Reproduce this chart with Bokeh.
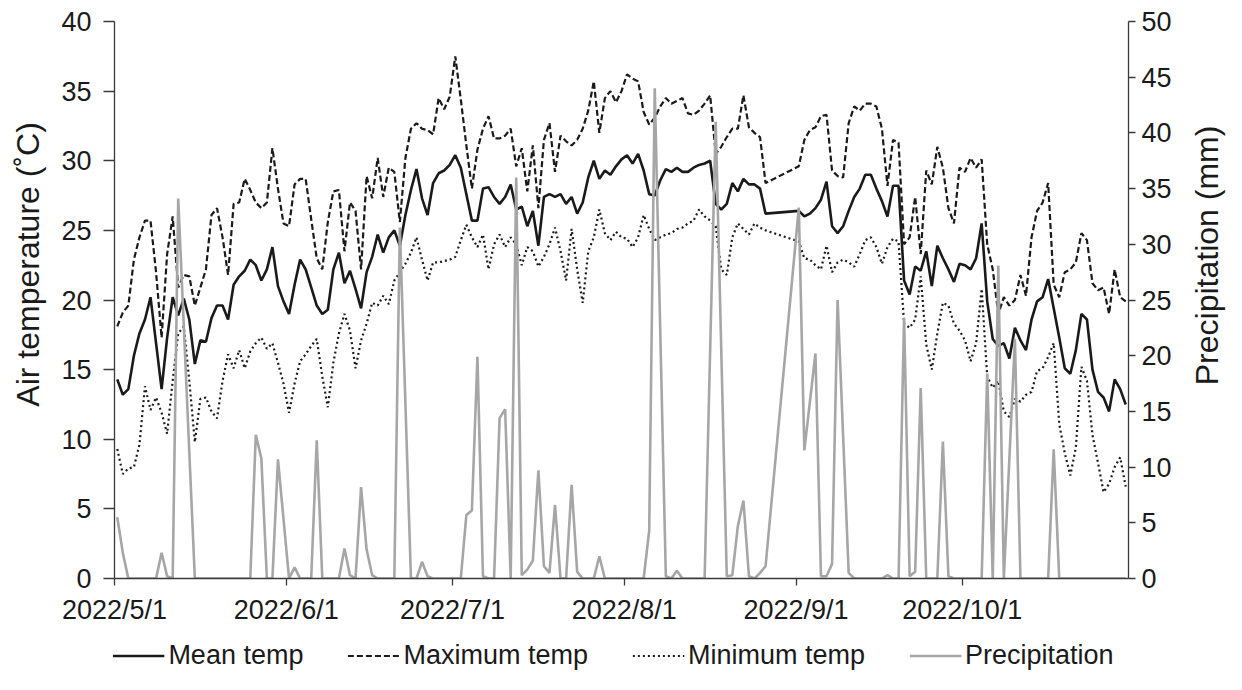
import math
import pandas as pd
from bokeh.plotting import figure
from bokeh.layouts import column, row
from bokeh.models import (Range1d, LinearAxis, FixedTicker, Legend, LegendItem,
                          ColumnDataSource, Label)
from bokeh.embed import file_html
from bokeh.resources import INLINE

FONT = "Liberation Sans"

# ---------------- data ----------------
start_date = "2022-05-01"
n_days = 183  # 2022-05-01 .. 2022-10-30
dates = pd.date_range(start_date, periods=n_days)

# daily values; None = no point for that day (the line joins across it)
mean_temp = [
    14.3, 13.2, 13.6, 16.0, 17.6, 18.6, 20.2, 16.9, 13.6, 17.3,
    20.2, 18.9, 20.1, 18.6, 15.4, 17.1, 17.0, 18.7, 19.6, 19.6,
    18.6, 21.1, 21.7, 22.1, 22.9, 22.5, 21.4, 22.2, 23.8, 21.0,
    19.9, 19.0, 21.1, 22.9, 22.2, 20.9, 19.6, 19.0, 19.3, 22.2,
    23.4, 21.2, 22.1, 20.8, 19.4, 22.0, 23.1, 24.7, 23.4, 24.5,
    25.0, 23.9, 26.1, 27.9, 29.4, 27.3, 26.1, 28.4, 29.1, 29.3,
    29.7, 30.4, 29.5, 27.6, 25.7, 25.7, 28.0, 28.1, 27.4, 26.9,
    27.4, 28.3, 26.5, 26.7, 25.3, 26.4, 23.9, 27.4, 27.6, 27.4,
    27.6, 26.9, 27.4, 26.2, 27.0, 28.8, 30.0, 28.7, 29.3, 29.0,
    29.6, 30.1, 30.4, 29.8, 30.5, 29.3, 27.6, 27.5, 28.6, 29.4,
    29.2, 29.5, 29.2, 29.2, 29.5, 29.7, 29.8, 30.0, 26.9, 26.5,
    26.9, 28.4, 27.8, 28.7, 28.3, 28.3, 28.0, 26.2, None, None,
    None, None, None, 26.4, 26.0, 26.2, 26.6, 27.2, 28.5, 25.3,
    24.8, 25.3, 26.4, 27.4, 28.0, 29.0, 29.0, 28.0, 27.1, 26.0,
    28.2, 28.2, 21.4, 20.4, 22.4, 22.1, 23.5, 21.0, 23.9, 23.0,
    22.2, 21.3, 22.6, 22.5, 22.2, 23.0, 25.5, 19.9, 17.2, 16.7,
    16.9, 15.8, 18.0, 17.1, 16.4, 18.6, 19.9, 20.2, 21.5, 19.4,
    17.3, 15.1, 14.7, 16.4, 19.0, 18.6, 15.0, 13.4, 13.0, 12.0,
    14.3, 13.6, 12.5]

max_temp = [
    18.1, 19.1, 19.6, 22.9, 24.5, 25.7, 25.7, 22.0, 17.3, 23.3,
    26.0, 20.9, 21.8, 21.7, 19.6, 20.9, 22.2, 26.1, 26.6, 24.5,
    21.8, 26.9, 27.0, 28.7, 27.9, 27.0, 26.6, 27.0, 30.9, 28.0,
    25.5, 25.3, 28.3, 28.7, 28.7, 25.8, 23.0, 22.2, 25.6, 27.8,
    27.9, 23.5, 27.0, 26.4, 22.2, 28.9, 27.3, 30.2, 27.4, 29.5,
    29.2, 25.6, 30.2, 32.3, 32.7, 32.3, 32.2, 31.9, 34.5, 33.7,
    34.6, 37.5, 34.4, 31.1, 28.0, 30.8, 32.3, 33.2, 31.6, 31.6,
    31.8, 32.3, 29.6, 30.9, 27.8, 31.1, 26.6, 31.5, 32.7, 29.2,
    31.8, 31.4, 31.1, 31.5, 32.3, 33.6, 35.7, 32.0, 34.5, 35.0,
    34.2, 35.0, 36.2, 35.9, 35.7, 33.5, 32.6, 33.1, 33.9, 34.5,
    34.1, 34.3, 34.5, 33.4, 33.3, 33.6, 34.1, 34.7, 30.5, 31.0,
    31.7, 32.3, 32.3, 34.7, 32.4, 32.0, 31.7, 28.4, None, None,
    None, None, None, 29.6, 31.5, 32.2, 32.4, 33.2, 33.3, 29.3,
    28.9, 28.8, 32.7, 33.9, 33.6, 34.1, 34.1, 33.9, 32.3, 28.2,
    31.5, 31.3, 24.0, 24.5, 27.4, 23.3, 29.3, 28.3, 31.0, 29.5,
    26.6, 25.5, 29.5, 29.2, 30.2, 29.5, 30.1, 24.0, 22.2, 19.0,
    20.2, 19.6, 20.0, 21.8, 20.3, 24.5, 26.4, 27.0, 28.4, 21.1,
    20.2, 22.0, 22.2, 22.7, 24.8, 24.3, 21.2, 20.7, 20.9, 19.0,
    22.2, 20.2, 19.9]

min_temp = [
    9.3, 7.5, 7.9, 8.0, 9.6, 13.8, 12.1, 13.0, 11.9, 10.4,
    14.2, 17.6, 18.1, 14.2, 9.8, 12.9, 13.0, 12.0, 11.5, 14.2,
    16.1, 15.1, 16.4, 15.1, 16.3, 16.9, 17.3, 16.5, 16.9, 15.5,
    14.0, 11.9, 14.0, 15.6, 16.1, 16.7, 17.2, 14.5, 12.3, 15.5,
    17.6, 19.0, 17.8, 15.1, 17.1, 18.3, 19.8, 19.6, 20.3, 19.7,
    21.4, 22.0, 22.6, 23.4, 24.5, 22.9, 21.4, 22.7, 22.7, 22.8,
    22.9, 23.1, 24.3, 25.4, 24.5, 23.8, 24.7, 22.2, 24.0, 24.7,
    23.8, 24.5, 24.0, 22.5, 23.8, 23.5, 22.4, 23.1, 24.0, 25.2,
    23.5, 21.4, 25.1, 22.2, 19.8, 23.5, 24.5, 26.5, 24.8, 24.3,
    24.9, 24.5, 24.4, 23.8, 24.5, 26.1, 25.1, 24.3, 24.5, 24.7,
    24.8, 25.1, 25.2, 25.5, 25.7, 26.5, 26.0, 25.7, 25.3, 22.2,
    21.8, 24.5, 25.5, 25.1, 24.7, 25.5, 25.2, 25.0, None, None,
    None, None, None, 24.2, 23.0, 22.9, 22.5, 22.2, 23.9, 22.0,
    22.7, 22.9, 22.7, 22.4, 23.3, 24.3, 24.5, 23.8, 22.6, 23.8,
    24.4, 24.2, 18.3, 18.0, 18.6, 21.7, 16.8, 15.0, 17.6, 19.8,
    19.6, 18.3, 17.8, 17.1, 15.6, 16.9, 20.8, 14.5, 13.7, 14.2,
    12.0, 11.6, 12.9, 12.7, 13.2, 13.4, 14.9, 15.1, 15.9, 16.9,
    11.1, 9.0, 7.4, 9.4, 15.2, 14.2, 10.3, 8.3, 6.2, 6.8,
    8.0, 8.7, 6.6]

precip = [
    5.5, 2.3, 0, 0, 0, 0, 0, 0, 2.3, 0.2,
    0, 34.1, None, None, 0, 0, 0, 0, 0, 0,
    0, 0, 0, 0, 0, 12.9, 10.8, 0, 0, 10.7,
    None, 0, 1.0, 0, 0, 0, 12.4, 0, 0, 0,
    0, 2.7, 0.3, 0, 8.2, 2.6, 0.3, 0, 0, 0,
    0, 31.5, None, 0, 0, 1.5, 0.2, 0, 0, 0,
    0, 0, 0, 5.7, 6.1, 19.9, 0.2, 0, 0, 14.4,
    15.2, 0, 36.0, 0.3, 0.8, 1.6, 9.7, 1.1, 0.5, 6.6,
    0, 0, 8.4, 0.6, 0, 0, 0, 2.0, 0, 0,
    0, 0, 0, 0, 0, 0, 4.3, 44.0, None, 0.2,
    0, 0.7, 0, 0, 0, 0, 0, None, 41.0, None,
    0.2, 0.3, 4.7, 7.0, 0.2, 0, 0.5, 1.1, None, None,
    None, None, None, 33.3, 11.5, None, 20.2, 0.2, 0.2, 1.3,
    25.0, None, 0.5, 0, 0, 0, 0, 0, 0, 0.3,
    0, 0, 23.4, 0.2, 0.6, 17.1, 0, 0, 0, 12.3,
    0.2, 0, 0, 0, 0, 0, 0, 18.4, 0, 28.1,
    0, None, 21.5, 0, 0, 0, 0, 0, 0, 11.6,
    0, 0, 0, 0, 0, 0, 0, 0, 0, 0,
    0, 0, 0]

tick_dates = ["2022-05-01", "2022-06-01", "2022-07-01",
              "2022-08-01", "2022-09-01", "2022-10-01"]
tick_labels = ["2022/5/1", "2022/6/1", "2022/7/1",
               "2022/8/1", "2022/9/1", "2022/10/1"]

series_names = ["Mean temp", "Maximum temp", "Minimum temp", "Precipitation"]
left_title = "Air temperature (˚C)"
right_title = "Precipitation (mm)"

# ---------------- helpers ----------------
t0 = pd.Timestamp(start_date)
x_all = [(d - t0).days + 0.5 for d in dates]          # point in middle of each day
tick_pos = [(pd.Timestamp(t) - t0).days for t in tick_dates]


def src(vals):
    xs = [x for x, v in zip(x_all, vals) if v is not None]
    ys = [v for v in vals if v is not None]
    return ColumnDataSource(dict(x=xs, y=ys))


AX_COL = "#3a3a3a"
TXT_COL = "#1a1a1a"
NB = "\u00a0"
TITLE_SIZE = "32px"

styles = [
    dict(line_color="#1a1a1a", line_width=2.6),
    dict(line_color="#1a1a1a", line_width=2.2, line_dash="6 3"),
    dict(line_color="#1a1a1a", line_width=2.2, line_dash="2 3"),
    dict(line_color="#a6a6a6", line_width=2.6),
]

W = 1226
W_SIDE = 40
H_MAIN = 636
H_LEG = 38
TOP, BOTTOM_MAIN = 21, 58

p = figure(width=W - W_SIDE, height=H_MAIN, output_backend="svg", toolbar_location=None,
           x_range=Range1d(0, n_days), y_range=Range1d(0, 40),
           min_border_left=114, min_border_right=58,
           min_border_top=TOP, min_border_bottom=BOTTOM_MAIN)
p.extra_y_ranges = {"prec": Range1d(0, 50)}
p.outline_line_color = None
p.xgrid.visible = False
p.ygrid.visible = False


def style_axis(ax, label_size="27px"):
    ax.axis_line_color = AX_COL
    ax.axis_line_width = 1.3
    ax.major_tick_line_color = AX_COL
    ax.major_tick_line_width = 1.3
    ax.minor_tick_line_color = None
    ax.major_tick_in = 0
    ax.major_label_text_font = FONT
    ax.major_label_text_font_size = label_size
    ax.major_label_text_color = TXT_COL
    ax.axis_label_text_font = FONT
    ax.axis_label_text_font_style = "normal"
    ax.axis_label_text_color = TXT_COL


# bottom axis
xa = p.xaxis[0]
style_axis(xa)
xa.ticker = FixedTicker(ticks=tick_pos)
xa.major_label_overrides = {tp: lab for tp, lab in zip(tick_pos, tick_labels)}
xa.major_tick_out = 7
xa.major_label_standoff = 9

# left axis
ya = p.yaxis[0]
style_axis(ya)
ya.ticker = FixedTicker(ticks=list(range(0, 41, 5)))
ya.major_tick_out = 11
ya.major_label_standoff = 12
ya.axis_label = NB * 8 + left_title
ya.axis_label_text_font_size = TITLE_SIZE
ya.axis_label_standoff = 12

# right axis (its title is drawn in the narrow strip at the right)
ra = LinearAxis(y_range_name="prec", ticker=FixedTicker(ticks=list(range(0, 51, 5))))
style_axis(ra)
ra.major_tick_out = 7
ra.major_label_standoff = 6
p.add_layout(ra, "right")

# lines (precipitation drawn last, on top)
p.line("x", "y", source=src(mean_temp), **styles[0])
p.line("x", "y", source=src(max_temp), **styles[1])
p.line("x", "y", source=src(min_temp), **styles[2])
p.line("x", "y", source=src(precip), y_range_name="prec", **styles[3])

# right title strip: same vertical frame as the chart, precipitation scale
side = figure(width=W_SIDE, height=H_MAIN, output_backend="svg", toolbar_location=None,
              x_axis_location=None, y_axis_location=None,
              min_border_left=0, min_border_right=0,
              min_border_top=TOP, min_border_bottom=BOTTOM_MAIN,
              x_range=Range1d(0, 1), y_range=Range1d(0, 50))
side.outline_line_color = None
side.xgrid.visible = False
side.ygrid.visible = False
side.add_layout(Label(x=0.5, y=29, text=right_title, angle=math.pi / 2,
                      text_align="center", text_baseline="middle",
                      text_font=FONT, text_font_size=TITLE_SIZE, text_color=TXT_COL))

# legend strip under the chart (its sample lines sit outside the visible range)
leg = figure(width=W, height=H_LEG, output_backend="svg", toolbar_location=None,
             x_axis_location=None, y_axis_location=None, min_border=0,
             x_range=Range1d(0, 1), y_range=Range1d(0, 1))
leg.outline_line_color = None
leg.xgrid.visible = False
leg.ygrid.visible = False
leg_renderers = [leg.line(x=[5, 6], y=[5, 6], **st) for st in styles]
legend = Legend(
    items=[LegendItem(label=n, renderers=[r]) for n, r in zip(series_names, leg_renderers)],
    orientation="horizontal", location="center",
    border_line_color=None, background_fill_alpha=0,
    label_text_font=FONT, label_text_font_size="27px", label_text_color=TXT_COL,
    glyph_width=52, glyph_height=24, label_standoff=4, spacing=44,
    padding=0, margin=0)
leg.add_layout(legend, "center")

layout = column(row(p, side, spacing=0), leg, spacing=0)
open("out.html", "w").write(file_html(layout, INLINE))
